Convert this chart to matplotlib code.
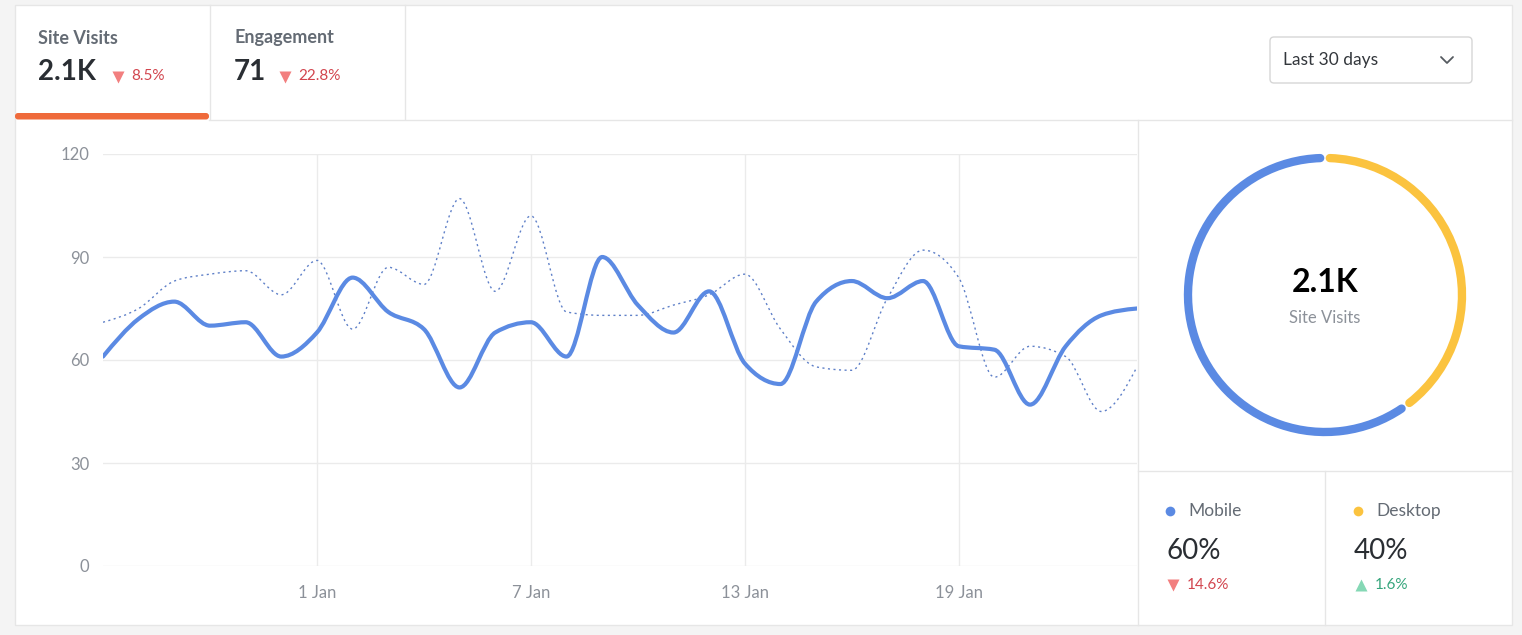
import numpy as np
import pandas as pd
from matplotlib import pyplot as plt
from matplotlib.path import Path
from matplotlib.patches import PathPatch, Arc, Rectangle, FancyBboxPatch

plt.rcParams['font.family'] = ['Lato', 'DejaVu Sans']

# ---- data ----
days = pd.date_range('2019-12-26', periods=30, freq='D')
day_labels = [f"{d.day} {d.strftime('%b')}" for d in days]
tick_days = ['1 Jan', '7 Jan', '13 Jan', '19 Jan']

visits = [61, 72, 77, 70, 71, 61, 68, 84, 74, 69, 52, 68, 71, 61, 90,
          76, 68, 80, 59, 53, 77, 83, 78, 83, 64, 63, 47, 64, 73, 75]
visits_prev = [71, 75, 83, 85, 86, 79, 89, 69, 87, 82, 107, 80, 102, 74, 73,
               73, 76, 79, 85, 69, 58, 57, 78, 92, 84, 55, 64, 61, 45, 58]
y_ticks = [0, 30, 60, 90, 120]

tabs = ['Site Visits', 'Engagement']
tab_values = ['2.1K', '71']
tab_changes = ['8.5%', '22.8%']

devices = ['Mobile', 'Desktop']
device_share = [60, 40]
device_changes = ['14.6%', '1.6%']
device_up = [False, True]

BLUE = '#5b8ae3'
YELLOW = '#fbc33f'
ORANGE = '#ef6a3b'
BORDER = '#e6e6e6'
RED_TXT = '#d2454e'
RED_TRI = '#f27f7f'
GREEN_TXT = '#35a57c'
GREEN_TRI = '#85d8b5'
DARK = '#2a2e33'
GREY = '#646b74'
TICK = '#8c9199'

W, H = 1522, 635


def monotone_path(xs, ys):
    """Monotone-x cubic bezier path through the points (like d3.curveMonotoneX)."""
    xs = np.asarray(xs, float)
    ys = np.asarray(ys, float)
    h = np.diff(xs)
    s = np.diff(ys) / h
    m = np.zeros_like(ys)
    for i in range(1, len(xs) - 1):
        s0, s1 = s[i - 1], s[i]
        p = (s0 * h[i] + s1 * h[i - 1]) / (h[i - 1] + h[i])
        m[i] = (np.sign(s0) + np.sign(s1)) * min(abs(s0), abs(s1), 0.5 * abs(p))
    m[0] = (3 * s[0] - m[1]) / 2
    m[-1] = (3 * s[-1] - m[-2]) / 2
    verts = [(xs[0], ys[0])]
    codes = [Path.MOVETO]
    for i in range(len(xs) - 1):
        d = h[i] / 3
        verts += [(xs[i] + d, ys[i] + m[i] * d),
                  (xs[i + 1] - d, ys[i + 1] - m[i + 1] * d),
                  (xs[i + 1], ys[i + 1])]
        codes += [Path.CURVE4] * 3
    return Path(verts, codes)


fig = plt.figure(figsize=(W / 100, H / 100), dpi=100)
fig.patch.set_facecolor('#f4f4f4')

# background / card layout in pixel coordinates
bg = fig.add_axes([0, 0, 1, 1], zorder=0)
bg.set_xlim(0, W)
bg.set_ylim(H, 0)
bg.axis('off')
bg.add_patch(Rectangle((15, 5), 1497, 620, facecolor='white', edgecolor=BORDER, lw=1))
for x0, y0, x1, y1 in [(210, 5, 210, 119), (405, 5, 405, 119), (209, 119.5, 1512, 119.5),
                       (1138, 120, 1138, 625), (1138, 471, 1512, 471), (1325, 471, 1325, 625)]:
    bg.plot([x0, x1], [y0, y1], color=BORDER, lw=1)
bg.add_patch(FancyBboxPatch((15, 113), 194, 6.5, boxstyle='round,pad=0,rounding_size=3',
                            facecolor=ORANGE, edgecolor='none'))

# tabs
for i, (name, val, chg) in enumerate(zip(tabs, tab_values, tab_changes)):
    x = 38 + i * 196
    bg.text(x, 38, name, fontsize=13, color=GREY, weight='bold', va='center')
    bg.text(x, 72, val, fontsize=20, color=DARK, weight='bold', va='center')
    off = 80 if i == 0 else 51
    bg.plot(x + off, 77, marker='v', ms=8, color=RED_TRI, mec='none')
    bg.text(x + off + 13, 76, chg, fontsize=11, color=RED_TXT, va='center')

# dropdown
bg.add_patch(FancyBboxPatch((1270, 37), 202, 46, boxstyle='round,pad=0,rounding_size=4',
                            facecolor='white', edgecolor='#d6d6d6', lw=1))
bg.text(1283, 60, 'Last 30 days', fontsize=12.5, color='#33373c', va='center')
bg.plot([1441, 1447, 1453], [57, 63, 57], color='#555a60', lw=1.3, solid_capstyle='round')

# line chart
ax = fig.add_axes([103 / W, 1 - 566 / H, 1034 / W, 412 / H], zorder=1)
ax.patch.set_alpha(0)
x_idx = np.arange(len(day_labels))
ax.set_xlim(0, len(day_labels) - 1)
ax.set_ylim(0, 120)
for sp in ax.spines.values():
    sp.set_visible(False)
ax.set_yticks(y_ticks)
ax.set_xticks([day_labels.index(d) for d in tick_days])
ax.set_xticklabels(tick_days)
ax.tick_params(length=0, labelsize=12, labelcolor=TICK)
ax.tick_params(axis='y', pad=10)
ax.tick_params(axis='x', pad=14)
ax.grid(True, color='#ebebeb', lw=1)
ax.add_patch(PathPatch(monotone_path(x_idx, visits_prev), fill=False, edgecolor='#5f80c8',
                       lw=1.0, linestyle=(0, (1.5, 2.5)), zorder=3))
ax.add_patch(PathPatch(monotone_path(x_idx, visits), fill=False, edgecolor=BLUE,
                       lw=3.0, capstyle='round', joinstyle='round', zorder=4))

# donut
r_px = 141
dax = fig.add_axes([(1325 - 150) / W, 1 - (295 + 150) / H, 300 / W, 300 / H], zorder=1)
dax.set_xlim(-150, 150)
dax.set_ylim(-150, 150)
dax.set_aspect('equal')
dax.axis('off')
gap = 2.0
start = 90.0
colors = [BLUE, YELLOW]
# shares go clockwise from the top: desktop first, then mobile
angle = start
for share, col in zip(device_share[::-1], colors[::-1]):
    span = share / sum(device_share) * 360
    dax.add_patch(Arc((0, 0), 2 * r_px - 8, 2 * r_px - 8, theta1=angle - span + gap,
                      theta2=angle - gap, color=col, lw=6, capstyle='round'))
    angle -= span
dax.text(0, 12, tab_values[0], fontsize=23, color='black', weight='bold', ha='center', va='center')
dax.text(0, -23, tabs[0], fontsize=12, color=TICK, ha='center', va='center')

# device legend
for i, (name, chg, up) in enumerate(zip(devices, device_changes, device_up)):
    x = 1166 + i * 188
    bg.plot(x + 4, 511, marker='o', ms=7, color=colors[i], mec='none')
    bg.text(x + 22, 511, name, fontsize=12.5, color=GREY, va='center')
    bg.text(x, 551, f'{device_share[i]}%', fontsize=20, color=DARK, va='center')
    bg.plot(x + 7, 585, marker='^' if up else 'v', ms=8,
            color=GREEN_TRI if up else RED_TRI, mec='none')
    bg.text(x + 21, 585, chg, fontsize=11, color=GREEN_TXT if up else RED_TXT, va='center')

fig.savefig('out.png', dpi=100, facecolor=fig.get_facecolor())
